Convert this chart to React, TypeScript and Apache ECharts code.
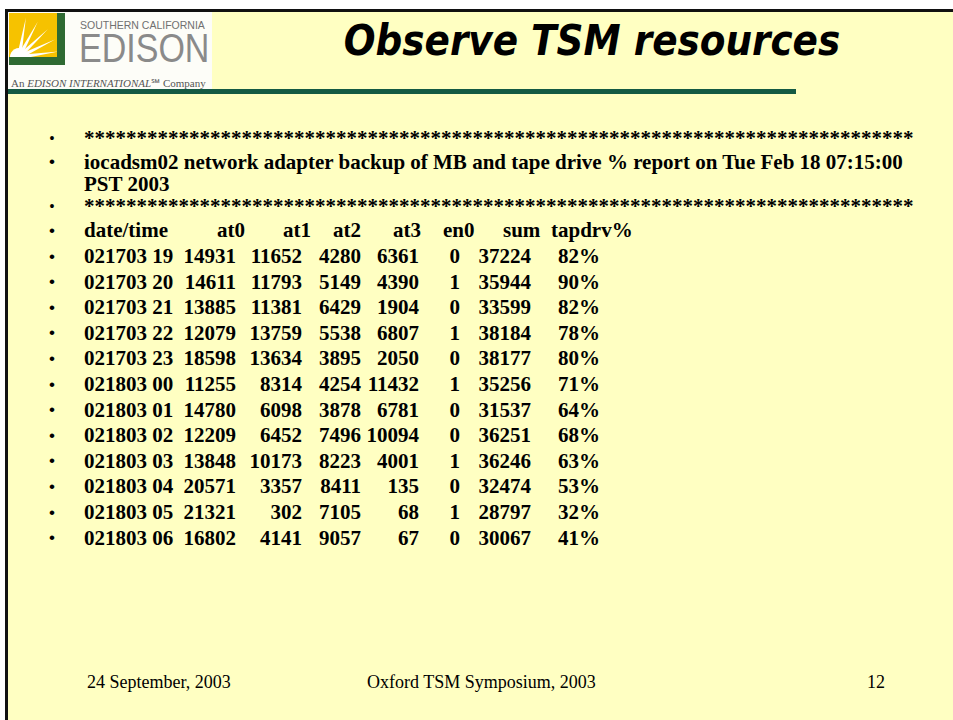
import React, { useEffect, useRef } from "react";
import * as echarts from "echarts";

// ---- data ----
const columns = ["date/time", "at0", "at1", "at2", "at3", "en0", "sum", "tapdrv%"];
const dateTimes = [
  "021703 19", "021703 20", "021703 21", "021703 22", "021703 23",
  "021803 00", "021803 01", "021803 02", "021803 03", "021803 04",
  "021803 05", "021803 06",
];
const at0 = [14931, 14611, 13885, 12079, 18598, 11255, 14780, 12209, 13848, 20571, 21321, 16802];
const at1 = [11652, 11793, 11381, 13759, 13634, 8314, 6098, 6452, 10173, 3357, 302, 4141];
const at2 = [4280, 5149, 6429, 5538, 3895, 4254, 3878, 7496, 8223, 8411, 7105, 9057];
const at3 = [6361, 4390, 1904, 6807, 2050, 11432, 6781, 10094, 4001, 135, 68, 67];
const en0 = [0, 1, 0, 1, 0, 1, 0, 0, 1, 0, 1, 0];
const sum = [37224, 35944, 33599, 38184, 38177, 35256, 31537, 36251, 36246, 32474, 28797, 30067];
const tapdrv = [82, 90, 82, 78, 80, 71, 64, 68, 63, 53, 32, 41];

const titleText = "Observe TSM resources";
const reportLine1 = "iocadsm02 network adapter backup of MB and tape drive % report on Tue Feb 18 07:15:00";
const reportLine2 = "PST 2003";
const asterisks = "*******************************************************************************";
const footerDate = "24 September, 2003";
const footerEvent = "Oxford TSM Symposium, 2003";
const pageNo = "12";

// ---- layout (pixels) ----
const HEADER_LEFT = [84, 217, 283, 333, 393, 443, 503, 551];
const VALUE_RIGHT = [0, 236, 302, 361, 419, 460, 531, 600];
const BULLET_X = 52;
const SERIF = '"Liberation Serif", "Times New Roman", serif';
const YELLOW_BG = "#FFFFC2";

const bodyText = (text: string, x: number, y: number, align: string) => ({
  type: "text",
  x,
  y,
  style: {
    text,
    fill: "#000",
    fontFamily: SERIF,
    fontWeight: "bold",
    fontSize: 21,
    align,
    verticalAlign: "middle",
  },
});

const bullet = (y: number, size = 17) => ({
  type: "text",
  x: BULLET_X,
  y,
  style: {
    text: "\u2022",
    fill: "#000",
    fontFamily: '"Liberation Sans", Arial, sans-serif',
    fontSize: size,
    align: "center",
    verticalAlign: "middle",
  },
});

export default function App() {
  const ref = useRef<HTMLDivElement>(null);

  useEffect(() => {
    if (!ref.current) return;
    const chart = echarts.init(ref.current, undefined, { renderer: "svg" });

    const rowCats = ["header", ...dateTimes];

    const renderItem = (_params: any, api: any) => {
      const idx = api.value(1);
      const y = api.coord([0, idx])[1];
      const children: any[] = [bullet(y)];
      if (idx === 0) {
        columns.forEach((c, k) => children.push(bodyText(c, HEADER_LEFT[k], y, "left")));
      } else {
        const r = idx - 1;
        children.push(bodyText(dateTimes[r], HEADER_LEFT[0], y, "left"));
        const vals = [at0[r], at1[r], at2[r], at3[r], en0[r], sum[r], tapdrv[r] + "%"];
        vals.forEach((v, k) => children.push(bodyText(String(v), VALUE_RIGHT[k + 1], y, "right")));
      }
      return { type: "group", children };
    };

    // sun rays of the logo
    const ox = 19, oy = 57;
    const rayAngles = [8, 26, 44, 62, 80];
    const rays = rayAngles.map((a) => {
      const rad = (a * Math.PI) / 180;
      const L = 40;
      const w = 0.11;
      return {
        type: "polygon",
        z: 3,
        shape: {
          points: [
            [ox + 8 * Math.cos(rad - w * 2), oy - 8 * Math.sin(rad - w * 2)],
            [ox + L * Math.cos(rad), oy - L * Math.sin(rad)],
            [ox + 8 * Math.cos(rad + w * 2), oy - 8 * Math.sin(rad + w * 2)],
          ],
        },
        style: { fill: "#ffffff" },
      };
    });

    chart.setOption({
      animation: false,
      backgroundColor: "#ffffff",
      grid: { left: 0, right: 0, top: 217.6, height: 332.8 },
      xAxis: { type: "value", min: 0, max: 953, show: false },
      yAxis: { type: "category", data: rowCats, inverse: true, show: false },
      series: [
        {
          type: "custom",
          z: 10,
          renderItem,
          encode: { x: 0, y: 1 },
          data: rowCats.map((_, i) => [0, i]),
        },
      ],
      graphic: [
        // frame
        { type: "rect", z: 0, shape: { x: 8, y: 12, width: 945, height: 708 }, style: { fill: YELLOW_BG } },
        { type: "rect", z: 1, shape: { x: 5, y: 9, width: 948, height: 3 }, style: { fill: "#111" } },
        { type: "rect", z: 1, shape: { x: 5, y: 9, width: 3, height: 711 }, style: { fill: "#111" } },
        // logo block
        { type: "rect", z: 1, shape: { x: 8, y: 12, width: 204, height: 77 }, style: { fill: "#fdfdf8" } },
        { type: "rect", z: 2, shape: { x: 9, y: 13, width: 48, height: 44 }, style: { fill: "#F6C200" } },
        { type: "circle", z: 3, shape: { cx: ox, cy: oy, r: 9 }, style: { fill: "#ffffff" } },
        ...rays,
        { type: "rect", z: 4, shape: { x: 57, y: 13, width: 8, height: 52 }, style: { fill: "#2F6A33" } },
        { type: "rect", z: 4, shape: { x: 9, y: 57, width: 56, height: 8 }, style: { fill: "#2F6A33" } },
        { type: "rect", z: 4, shape: { x: 8, y: 65, width: 60, height: 8 }, style: { fill: "#fdfdf8" } },
        {
          type: "text", z: 4, x: 80, y: 25,
          style: { text: "SOUTHERN CALIFORNIA", fill: "#707070", fontFamily: '"Liberation Sans", Arial, sans-serif', fontSize: 10.5, align: "left", verticalAlign: "middle" },
        },
        {
          type: "text", z: 4, x: 79, y: 48, scaleX: 0.83,
          style: { text: "EDISON", fill: "#8a8a8a", fontFamily: '"Liberation Sans", Arial, sans-serif', fontSize: 41, align: "left", verticalAlign: "middle" },
        },
        {
          type: "text", z: 4, x: 11, y: 83,
          style: {
            text: "{a|An }{b|EDISON INTERNATIONAL}{a|\u2120 Company}",
            verticalAlign: "middle",
            align: "left",
            rich: {
              a: { fill: "#555", fontFamily: SERIF, fontSize: 11 },
              b: { fill: "#555", fontFamily: SERIF, fontSize: 11, fontStyle: "italic" },
            },
          },
        },
        // rule under the title
        { type: "rect", z: 2, shape: { x: 8, y: 89, width: 788, height: 5 }, style: { fill: "#145A43" } },
        // title
        {
          type: "text", z: 4, x: 592, y: 40, scaleX: 0.89,
          style: { text: titleText, fill: "#000", fontFamily: '"Comic Sans MS", "DejaVu Sans", sans-serif', fontWeight: "bold", fontStyle: "italic", fontSize: 42, align: "center", verticalAlign: "middle" },
        },
        // report lines
        { ...bullet(137.6, 14), z: 5 },
        { ...bodyText(asterisks, 84, 137.6, "left"), z: 5 },
        { ...bullet(161.5), z: 5 },
        { ...bodyText(reportLine1, 84, 161.5, "left"), z: 5 },
        { ...bodyText(reportLine2, 84, 183.5, "left"), z: 5 },
        { ...bullet(205.6, 14), z: 5 },
        { ...bodyText(asterisks, 84, 205.6, "left"), z: 5 },
        // footer
        {
          type: "text", z: 5, x: 87, y: 682,
          style: { text: footerDate, fill: "#000", fontFamily: SERIF, fontSize: 18, align: "left", verticalAlign: "middle" },
        },
        {
          type: "text", z: 5, x: 367, y: 682,
          style: { text: footerEvent, fill: "#000", fontFamily: SERIF, fontSize: 18, align: "left", verticalAlign: "middle" },
        },
        {
          type: "text", z: 5, x: 885, y: 682,
          style: { text: pageNo, fill: "#000", fontFamily: SERIF, fontSize: 18, align: "right", verticalAlign: "middle" },
        },
      ],
    });

    return () => chart.dispose();
  }, []);

  return (
    <div
      ref={ref}
      style={{ position: "fixed", left: 0, top: 0, width: 953, height: 720 }}
    />
  );
}
